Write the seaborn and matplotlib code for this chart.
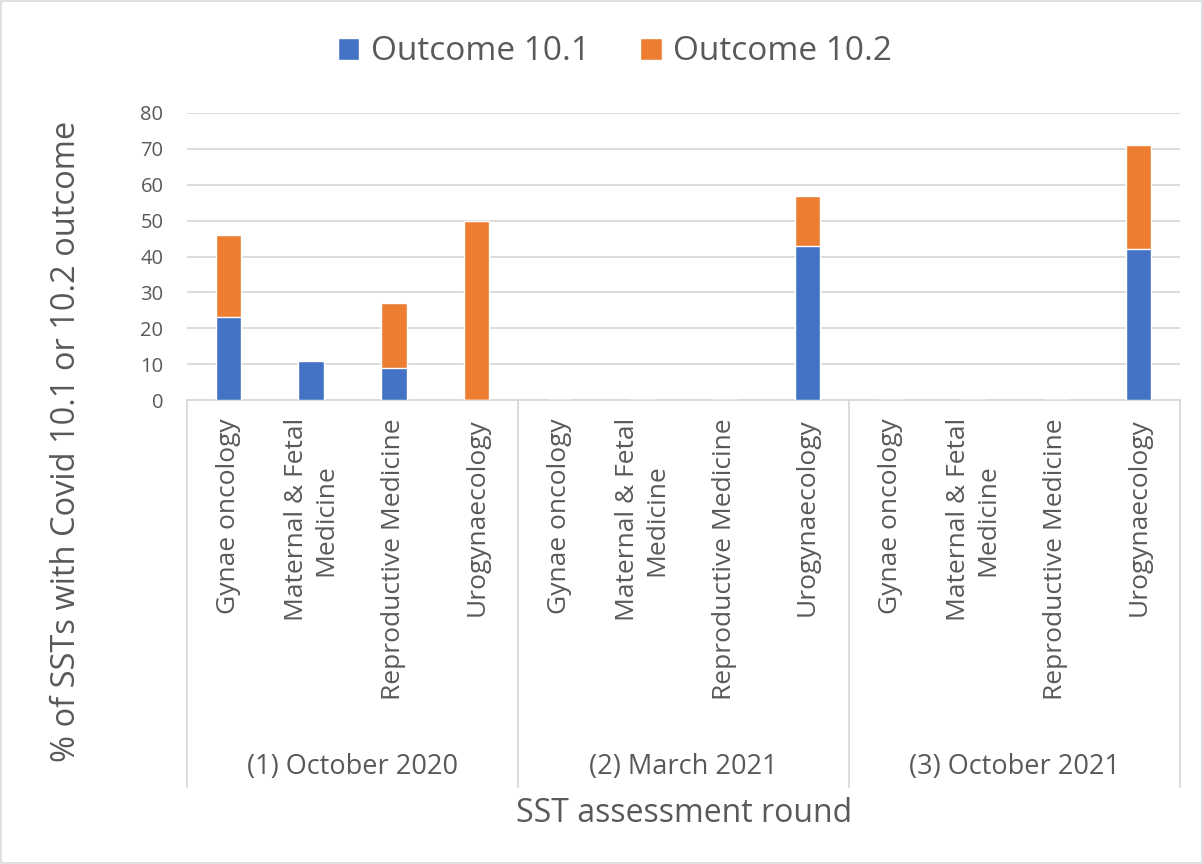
import matplotlib
matplotlib.use("Agg")
import matplotlib.pyplot as plt
import seaborn as sns
import pandas as pd
from matplotlib.patches import Patch, Rectangle

# ---- data ----
rounds = ["(1) October 2020", "(2) March 2021", "(3) October 2021"]
specialties = ["Gynae oncology", "Maternal & Fetal\nMedicine", "Reproductive Medicine", "Urogynaecology"]
outcome_101 = [23, 11, 9, 0, 0, 0, 0, 43, 0, 0, 0, 42]
outcome_102 = [23, 0, 18, 50, 0, 0, 0, 14, 0, 0, 0, 29]
series_names = ["Outcome 10.1", "Outcome 10.2"]
y_ticks = [0, 10, 20, 30, 40, 50, 60, 70, 80]

BLUE = "#4472C4"
ORANGE = "#ED7D31"
TEXT = "#595959"
GRID = "#D9D9D9"

labels = [s for r in rounds for s in specialties]
pos = [str(i) for i in range(len(labels))]
df = pd.DataFrame({
    "pos": pos,
    "o1": outcome_101,
    "total": [a + b for a, b in zip(outcome_101, outcome_102)],
})

sns.set_theme(style="white")
plt.rcParams["font.family"] = ["Open Sans", "DejaVu Sans"]

fig = plt.figure(figsize=(12.03, 8.64), dpi=100)
ax = fig.add_axes([187 / 1203, 1 - 400 / 864, (1180 - 187) / 1203, (400 - 113) / 864])

sns.barplot(data=df, x="pos", y="total", order=pos, color=ORANGE, width=0.31,
            saturation=1, ax=ax, zorder=3)
sns.barplot(data=df, x="pos", y="o1", order=pos, color=BLUE, width=0.31,
            saturation=1, ax=ax, zorder=4)

ax.set_ylim(0, 80)
ax.set_xlim(-0.5, len(labels) - 0.5)
ax.set_yticks(y_ticks)
ax.set_yticklabels([str(t) for t in y_ticks], color=TEXT, fontsize=14.5)
ax.yaxis.grid(True, color=GRID, linewidth=1.3, zorder=0)
ax.set_axisbelow(True)
for s in ["top", "right", "left"]:
    ax.spines[s].set_visible(False)
ax.spines["bottom"].set_color(GRID)
ax.spines["bottom"].set_linewidth(1.3)
ax.tick_params(axis="y", length=0, pad=17)
ax.tick_params(axis="x", length=0, pad=13)
ax.set_xticks(range(len(labels)))
ax.set_xticklabels(labels, rotation=90, ha="center", va="top",
                   multialignment="center", color=TEXT, fontsize=19)
ax.set_xlabel("")
ax.set_ylabel("")

# group separators & labels
bottom_frac = -(787 - 400) / (400 - 113)
trans = ax.get_xaxis_transform()
for k in range(len(rounds) + 1):
    x = k * 4 - 0.5
    ax.plot([x, x], [0, bottom_frac], transform=trans, color=GRID,
            linewidth=1.3, clip_on=False)
label_y = -(767 - 400) / (400 - 113)
for k, r in enumerate(rounds):
    ax.text(k * 4 + 1.5, label_y, r, transform=trans, ha="center", va="center",
            color=TEXT, fontsize=19.5)

fig.text(684 / 1203, 1 - 813 / 864, "SST assessment round", ha="center",
         va="center", color=TEXT, fontsize=23)
fig.text(67 / 1203, 1 - 441 / 864, "% of SSTs with Covid 10.1 or 10.2 outcome",
         ha="center", va="center", rotation=90, color=TEXT, fontsize=23.5)

handles = [Patch(facecolor=BLUE, label=series_names[0]),
           Patch(facecolor=ORANGE, label=series_names[1])]
leg = fig.legend(handles=handles, loc="center", bbox_to_anchor=(615 / 1203, 1 - 52 / 864),
                 ncol=2, frameon=False, fontsize=24, handlelength=0.65,
                 handleheight=0.65, handletextpad=0.35, columnspacing=1.5)
for t in leg.get_texts():
    t.set_color(TEXT)

fig.patches.append(Rectangle((0.001, 0.001), 0.998, 0.998, transform=fig.transFigure,
                             fill=False, edgecolor=GRID, linewidth=1.2))

fig.savefig("out.png", dpi=100, facecolor="white")
